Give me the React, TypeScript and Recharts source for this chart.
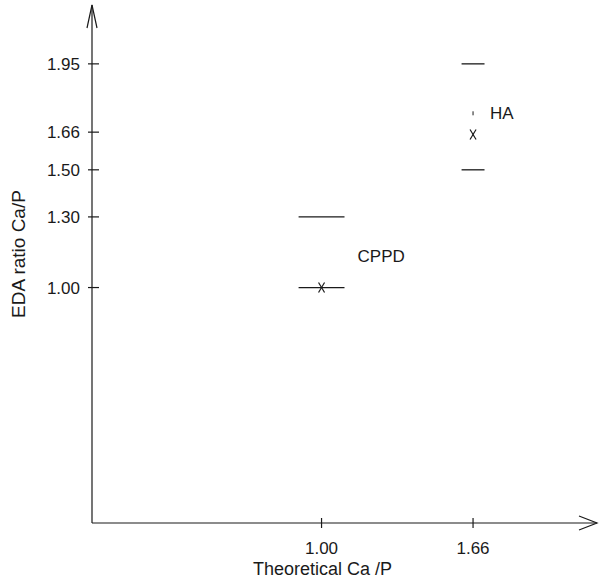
import { ScatterChart, Scatter, XAxis, YAxis, ReferenceLine, ReferenceDot, LabelList, Label } from "recharts";

// values
const compounds = ["CPPD", "HA"];
const theoreticalRatio = [1.0, 1.66];
const measuredRatio = [1.0, 1.65];
const upperRatio = [1.3, 1.95];
const lowerRatio = [1.0, 1.5];
const rangeHalfWidth = [0.1, 0.05];
const faintMark = [null, 1.74];
const xTicks = [1.0, 1.66];
const yTicks = [1.0, 1.3, 1.5, 1.66, 1.95];
const axisMax = 2.2;

const INK = "#1a1a1a";
const FONT = "'Liberation Sans', Arial, sans-serif";
const labelOffsets = [
    { dx: 36, dy: -32 },
    { dx: 17, dy: -22 },
];

const points = compounds.map((name, i) => ({ name, x: theoreticalRatio[i], y: measuredRatio[i] }));
const faintPoints = compounds
    .map((name, i) => ({ name, x: theoreticalRatio[i], y: faintMark[i] }))
    .filter((p) => p.y !== null);

const fmt = (v: number) => v.toFixed(2);

function YTick(props: any) {
    const { x, y, payload } = props;
    return (
        <g>
            <line x1={x - 4} x2={x + 7} y1={y} y2={y} stroke={INK} strokeWidth={1.2} />
            <text x={x - 12} y={y} dy={6} textAnchor="end" fontSize={17} fill={INK} fontFamily={FONT}>
                {fmt(payload.value)}
            </text>
        </g>
    );
}

function XTick(props: any) {
    const { x, y, payload } = props;
    return (
        <g>
            <line x1={x} x2={x} y1={y - 5} y2={y + 5} stroke={INK} strokeWidth={1.2} />
            <text x={x} y={y + 31} textAnchor="middle" fontSize={17} fill={INK} fontFamily={FONT}>
                {fmt(payload.value)}
            </text>
        </g>
    );
}

function Cross(props: any) {
    const { cx, cy } = props;
    return (
        <g stroke={INK} strokeWidth={1.2}>
            <line x1={cx - 3} y1={cy - 5} x2={cx + 3} y2={cy + 5} />
            <line x1={cx + 3} y1={cy - 5} x2={cx - 3} y2={cy + 5} />
        </g>
    );
}

function Dash(props: any) {
    const { cx, cy } = props;
    return <line x1={cx} x2={cx} y1={cy - 2} y2={cy + 2} stroke={INK} strokeWidth={1} />;
}

function UpArrow(props: any) {
    const { cx, cy } = props;
    return <polyline points={`${cx - 5},${cy + 23} ${cx},${cy} ${cx + 5},${cy + 23}`} fill="none" stroke={INK} strokeWidth={1.2} />;
}

function RightArrow(props: any) {
    const { cx, cy } = props;
    return <polyline points={`${cx - 18},${cy - 7} ${cx},${cy} ${cx - 18},${cy + 7}`} fill="none" stroke={INK} strokeWidth={1.2} />;
}

function CompoundLabel(props: any) {
    const { x, y, width, height, value, index } = props;
    const cx = x + (width || 0) / 2;
    const cy = y + (height || 0) / 2;
    const off = labelOffsets[index] || { dx: 0, dy: 0 };
    return (
        <text x={cx + off.dx} y={cy + off.dy} dy={6} fontSize={17} fill={INK} fontFamily={FONT}>
            {value}
        </text>
    );
}

export default function App() {
    return (
        <div style={{ position: "absolute", left: 0, top: 0 }}>
            <ScatterChart width={603} height={583} margin={{ top: 5, right: 6, bottom: 20, left: 32 }}>
                <XAxis
                    type="number"
                    dataKey="x"
                    domain={[0, axisMax]}
                    ticks={xTicks}
                    height={40}
                    tickSize={0}
                    tickMargin={0}
                    tickLine={false}
                    tick={<XTick />}
                    axisLine={{ stroke: INK, strokeWidth: 1.2 }}
                    allowDataOverflow
                >
                    <Label
                        content={(p: any) => {
                            const vb = p.viewBox;
                            return (
                                <text x={vb.x + vb.width / 2 - 22} y={vb.y + 52} textAnchor="middle" fontSize={18} fill={INK} fontFamily={FONT}>
                                    Theoretical Ca /P
                                </text>
                            );
                        }}
                    />
                </XAxis>
                <YAxis
                    type="number"
                    dataKey="y"
                    domain={[0, axisMax]}
                    ticks={yTicks}
                    width={60}
                    tickSize={0}
                    tickMargin={0}
                    tickLine={false}
                    tick={<YTick />}
                    axisLine={{ stroke: INK, strokeWidth: 1.2 }}
                    allowDataOverflow
                >
                    <Label
                        content={(p: any) => {
                            const vb = p.viewBox;
                            const cx = vb.x + vb.width - 67;
                            const cy = vb.y + vb.height / 2 - 10;
                            return (
                                <text x={cx} y={cy} transform={`rotate(-90 ${cx} ${cy})`} textAnchor="middle" fontSize={19} fill={INK} fontFamily={FONT}>
                                    EDA ratio Ca/P
                                </text>
                            );
                        }}
                    />
                </YAxis>

                {compounds.map((name, i) => (
                    <ReferenceLine
                        key={name + "-up"}
                        segment={[
                            { x: theoreticalRatio[i] - rangeHalfWidth[i], y: upperRatio[i] },
                            { x: theoreticalRatio[i] + rangeHalfWidth[i], y: upperRatio[i] },
                        ]}
                        stroke={INK}
                        strokeWidth={1.3}
                    />
                ))}
                {compounds.map((name, i) => (
                    <ReferenceLine
                        key={name + "-lo"}
                        segment={[
                            { x: theoreticalRatio[i] - rangeHalfWidth[i], y: lowerRatio[i] },
                            { x: theoreticalRatio[i] + rangeHalfWidth[i], y: lowerRatio[i] },
                        ]}
                        stroke={INK}
                        strokeWidth={1.3}
                    />
                ))}

                <Scatter data={points} shape={<Cross />} isAnimationActive={false}>
                    <LabelList dataKey="name" content={<CompoundLabel />} />
                </Scatter>
                <Scatter data={faintPoints} shape={<Dash />} isAnimationActive={false} />

                <ReferenceDot x={0} y={axisMax} r={0} ifOverflow="visible" shape={<UpArrow />} />
                <ReferenceDot x={axisMax} y={0} r={0} ifOverflow="visible" shape={<RightArrow />} />
            </ScatterChart>
        </div>
    );
}
